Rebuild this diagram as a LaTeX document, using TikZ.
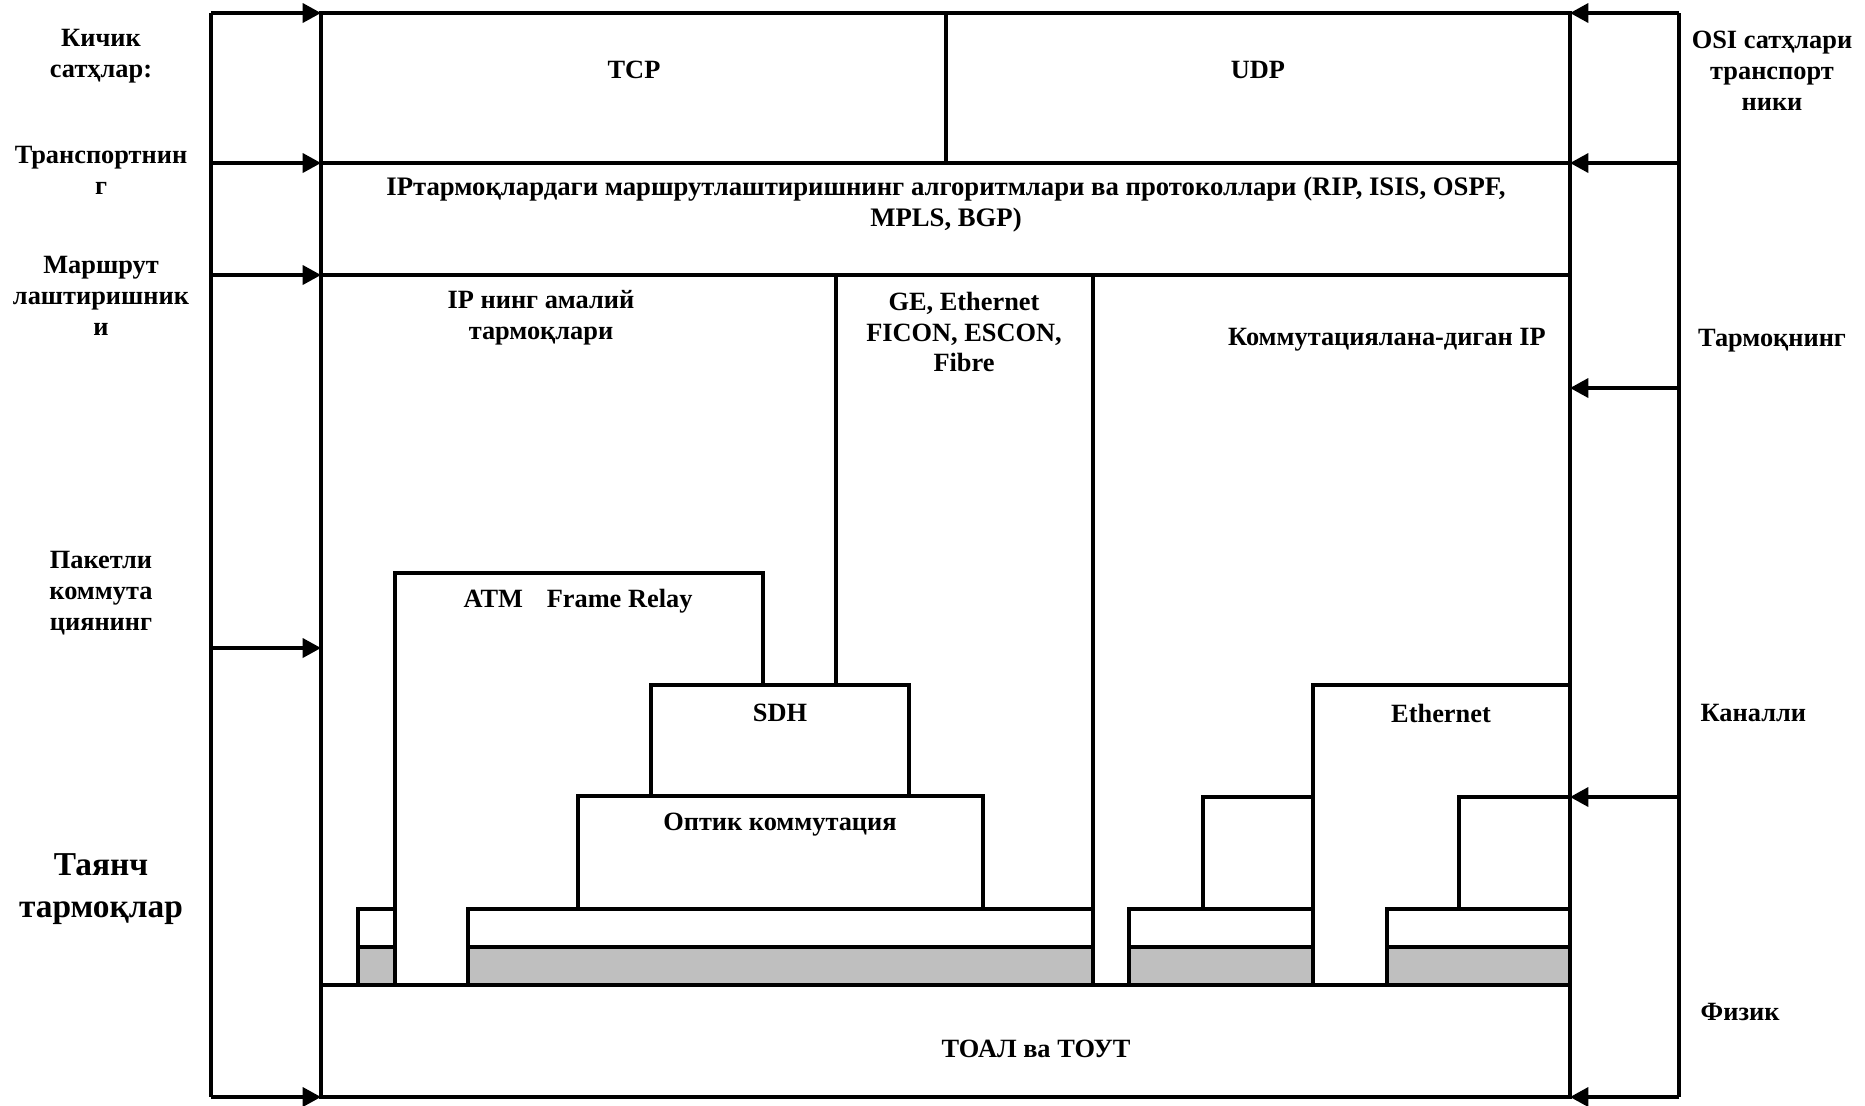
\documentclass[tikz,border=0pt]{standalone}
\usepackage{fontspec}
\setmainfont{Liberation Serif}
\usepackage{xcolor}
\usepackage{tikz}
\usetikzlibrary{shapes,arrows,arrows.meta}
\tikzstyle{lbl} = [font=\fontsize{7.5}{8.8}\selectfont\bfseries, align=center, inner sep=0pt]
\tikzstyle{big} = [font=\fontsize{9.5}{12}\selectfont\bfseries, align=center, inner sep=0pt]
\tikzstyle{line} = [draw, line width=1pt, -{Triangle[length=5.2pt,width=5.4pt]}]
\tikzstyle{wall} = [draw, line width=1pt]
\tikzstyle{strip} = [draw, line width=0.9pt, fill=white]
\tikzstyle{shade} = [draw, line width=0.9pt, fill=black!25]

\begin{document}
\begin{tikzpicture}
\useasboundingbox (0,0) rectangle (18.65,-11.05);

\coordinate (a1) at (2.11,-0.13);
\coordinate (a2) at (2.11,-1.63);
\coordinate (a3) at (2.11,-2.75);
\coordinate (a4) at (2.11,-6.48);
\coordinate (a5) at (2.11,-10.97);
\coordinate (b1) at (3.21,-0.13);
\coordinate (b2) at (3.21,-1.63);
\coordinate (b3) at (3.21,-2.75);
\coordinate (b4) at (3.21,-6.48);
\coordinate (b5) at (3.21,-10.97);
\coordinate (c1) at (16.79,-0.13);
\coordinate (c2) at (16.79,-1.63);
\coordinate (c3) at (16.79,-3.88);
\coordinate (c4) at (16.79,-7.97);
\coordinate (c5) at (16.79,-10.97);
\coordinate (d1) at (15.70,-0.13);
\coordinate (d2) at (15.70,-1.63);
\coordinate (d3) at (15.70,-3.88);
\coordinate (d4) at (15.70,-7.97);
\coordinate (d5) at (15.70,-10.97);

\path [wall] (a1) -- (a5);
\path [wall] (c1) -- (c5);
\path [wall] (b1) rectangle (d5);
\path [wall] (b2) -- (d2);
\path [wall] (b3) -- (15.70,-2.75);
\path [wall] (9.46,-0.13) -- (9.46,-1.63);

\path [line] (a1) -- (b1);
\path [line] (a2) -- (b2);
\path [line] (a3) -- (b3);
\path [line] (a4) -- (b4);
\path [line] (a5) -- (b5);
\path [line] (c1) -- (d1);
\path [line] (c2) -- (d2);
\path [line] (c3) -- (d3);
\path [line] (c4) -- (d4);
\path [line] (c5) -- (d5);

\path [wall] (3.95,-9.85) -- (3.95,-5.73) -- (7.63,-5.73) -- (7.63,-6.85);
\path [wall] (8.36,-2.75) -- (8.36,-6.85);
\path [wall] (6.51,-6.85) rectangle (9.09,-7.96);
\path [wall] (5.78,-7.96) rectangle (9.83,-9.09);
\path [strip] (3.58,-9.09) rectangle (3.95,-9.47);
\path [shade] (3.58,-9.47) rectangle (3.95,-9.85);
\path [strip] (4.68,-9.09) rectangle (10.93,-9.47);
\path [shade] (4.68,-9.47) rectangle (10.93,-9.85);
\path [wall] (10.93,-2.75) -- (10.93,-9.85);

\path [wall] (13.13,-9.85) -- (13.13,-6.85) -- (15.70,-6.85);
\path [wall] (12.03,-9.09) -- (12.03,-7.97) -- (13.13,-7.97);
\path [wall] (14.59,-9.09) -- (14.59,-7.97) -- (15.70,-7.97);
\path [strip] (11.29,-9.09) rectangle (13.13,-9.47);
\path [shade] (11.29,-9.47) rectangle (13.13,-9.85);
\path [strip] (13.87,-9.09) rectangle (15.70,-9.47);
\path [shade] (13.87,-9.47) rectangle (15.70,-9.85);
\path [wall] (3.21,-9.85) -- (15.70,-9.85);

\node [lbl] (L1) at (1.01,-0.56) {Кичик\\сатҳлар:};
\node [lbl] (L2) at (1.01,-1.70) {Транспортнин\\г};
\node [lbl] (L3) at (1.01,-2.96) {Маршрут\\лаштиришник\\и};
\node [lbl] (L4) at (1.01,-5.93) {Пакетли\\коммута\\циянинг};
\node [big] (L5) at (1.01,-8.89) {Таянч\\тармоқлар};
\node [lbl] (R1) at (17.72,-0.71) {OSI сатҳлари\\транспорт\\ники};
\node [lbl] (R2) at (17.72,-3.41) {Тармоқнинг};
\node [lbl, anchor=west] (R3) at (17.00,-7.13) {Каналли};
\node [lbl, anchor=west] (R4) at (17.00,-10.12) {Физик};

\node [lbl] (tcp) at (6.34,-0.70) {TCP};
\node [lbl] (udp) at (12.58,-0.70) {UDP};
\node [lbl, font=\fontsize{7.6}{8.8}\selectfont\bfseries] (rout) at (9.46,-2.05) {IPтармоқлардаги маршрутлаштиришнинг алгоритмлари ва протоколлари (RIP, ISIS, OSPF,\\MPLS, BGP)};
\node [lbl] (ipn) at (5.41,-3.18) {IP нинг амалий\\тармоқлари};
\node [lbl] (ge) at (9.64,-3.32) {GE, Ethernet\\FICON, ESCON,\\Fibre};
\node [lbl] (kom) at (13.87,-3.40) {Коммутациялана-диган IP};
\node [lbl] (atm) at (5.78,-6.01) {ATM\hspace{0.9em}Frame Relay};
\node [lbl] (sdh) at (7.80,-7.13) {SDH};
\node [lbl] (opt) at (7.80,-8.25) {Оптик коммутация};
\node [lbl] (eth) at (14.41,-7.13) {Ethernet};
\node [lbl] (toal) at (10.36,-10.49) {ТОАЛ ва ТОУТ};
\end{tikzpicture}
\end{document}
